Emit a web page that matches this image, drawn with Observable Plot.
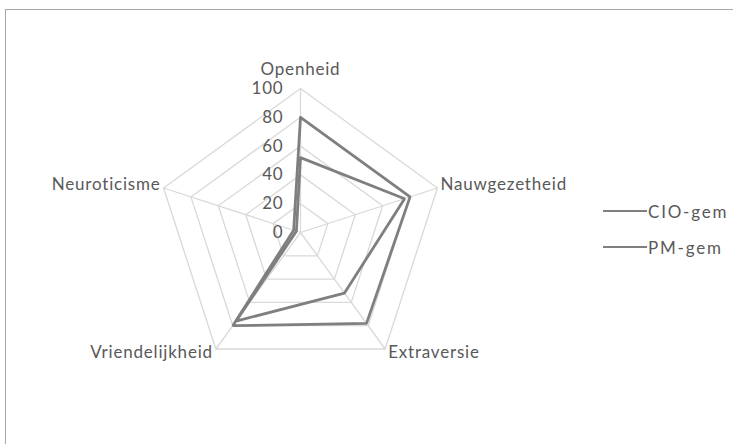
<!DOCTYPE html>
<html>
<head>
<meta charset="utf-8">
<script src="https://cdn.jsdelivr.net/npm/d3@7"></script>
<script src="https://cdn.jsdelivr.net/npm/@observablehq/plot@0.6"></script>
<style>
  body { margin: 0; background: #fff; font-family: Lato, "Open Sans", sans-serif; }
  #wrap { position: relative; width: 733px; height: 444px; overflow: hidden; }
  #frame { position: absolute; left: 5px; top: 9px; width: 740px; height: 445px; border: 1.5px solid #a8a8a8; box-sizing: border-box; }
  #chart { position: absolute; left: 0; top: 0; }
  #legend { position: absolute; left: 603px; top: 199px; font-size: 17px; letter-spacing: 1.8px; color: #595959; }
  .li { display: flex; align-items: center; height: 24px; margin-bottom: 12px; }
  .sw { width: 44px; height: 2.6px; background: #7f7f7f; margin-right: 1px; }
</style>
</head>
<body>
<div id="wrap">
  <div id="frame"></div>
  <div id="chart"></div>
  <div id="legend"></div>
</div>
<script>
const axes = ["Openheid", "Nauwgezetheid", "Extraversie", "Vriendelijkheid", "Neuroticisme"];
const cioGem = [80, 80, 78, 80, 5];
const pmGem = [52, 76, 52, 76, 3];
const ticks = [0, 20, 40, 60, 80, 100];
const seriesNames = ["CIO-gem", "PM-gem"];

const n = axes.length;
const ang = i => i * 2 * Math.PI / n;
const px = (r, i) => r * Math.sin(ang(i));
const py = (r, i) => r * Math.cos(ang(i));

// grid rings (closed pentagons)
const rings = [];
ticks.filter(t => t > 0).forEach(t => {
  for (let i = 0; i <= n; i++) rings.push({t, x: px(t, i % n), y: py(t, i % n)});
});
const spokes = axes.map((a, i) => ({x1: 0, y1: 0, x2: px(100, i), y2: py(100, i)}));

const series = [];
[cioGem, pmGem].forEach((vals, s) => {
  for (let i = 0; i <= n; i++) series.push({s: seriesNames[s], x: px(vals[i % n], i % n), y: py(vals[i % n], i % n)});
});

const labels = axes.map((a, i) => {
  const sx = Math.sin(ang(i)), cy = Math.cos(ang(i));
  const anchor = Math.abs(sx) < 0.1 ? "middle" : (sx > 0 ? "start" : "end");
  const dx = Math.abs(sx) < 0.1 ? 0 : (sx > 0 ? 3 : -3);
  const dy = i === 0 ? -19 : (cy < 0 ? 4 : -3);
  return {name: a, x: px(100, i), y: py(100, i), anchor, dx, dy};
});

const k = 1.44;
const chart = Plot.plot({
  width: 733, height: 444,
  margin: 0,
  x: {domain: [-300 / k, 433 / k], range: [0, 733], axis: null},
  y: {domain: [-212 / k, 232 / k], range: [444, 0], axis: null},
  style: {fontFamily: "Lato, 'Open Sans', sans-serif", background: "transparent", letterSpacing: "0.8px"},
  marks: [
    Plot.line(rings, {x: "x", y: "y", z: "t", stroke: "#d9d9d9", strokeWidth: 1.3}),
    Plot.link(spokes, {x1: "x1", y1: "y1", x2: "x2", y2: "y2", stroke: "#d9d9d9", strokeWidth: 1.3}),
    Plot.line(series, {x: "x", y: "y", z: "s", stroke: "#7f7f7f", strokeWidth: 2.8, strokeLinejoin: "miter"}),
    Plot.text(ticks, {x: () => 0, y: d => d, text: d => String(d), textAnchor: "end", dx: -17, fontSize: 17, fill: "#595959"}),
    ...labels.map(l => Plot.text([l], {x: "x", y: "y", text: "name", textAnchor: l.anchor, dx: l.dx, dy: l.dy, fontSize: 17, fill: "#595959"}))
  ]
});
document.getElementById("chart").appendChild(chart);

const lg = document.getElementById("legend");
seriesNames.forEach(s => {
  const row = document.createElement("div");
  row.className = "li";
  row.innerHTML = `<span class="sw"></span><span>${s}</span>`;
  lg.appendChild(row);
});
</script>
</body>
</html>
